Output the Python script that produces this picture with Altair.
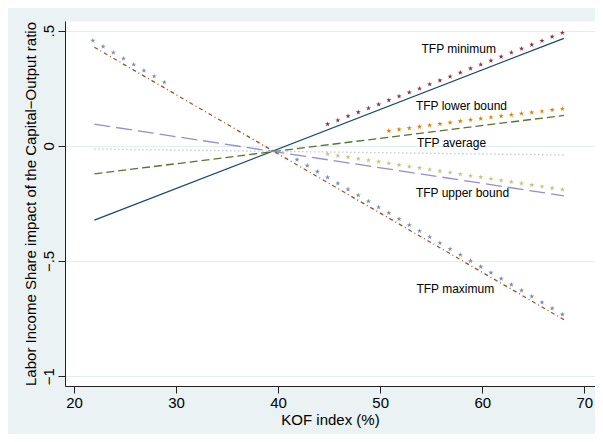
import altair as alt
import pandas as pd

FONT = "Liberation Sans"

# ---- straight fitted lines (endpoints) ----
line_x = [22, 68]
min_line = [-0.323, 0.467]
lower_line = [-0.122, 0.132]
avg_line = [-0.014, -0.040]
upper_line = [0.094, -0.217]
max_line = [0.428, -0.755]

# ---- star markers ----
min_star_x = [45, 46, 47, 48, 49, 50, 51, 52, 53, 54, 55, 56, 57, 58, 59, 60, 61, 62, 63, 64, 65, 66, 67, 68]
min_star_y = [0.094, 0.111, 0.129, 0.146, 0.163, 0.180, 0.198, 0.215, 0.232, 0.249, 0.267, 0.284,
              0.301, 0.318, 0.336, 0.353, 0.370, 0.387, 0.405, 0.422, 0.439, 0.456, 0.474, 0.491]

lower_star_x = [51, 52, 53, 54, 55, 56, 57, 58, 59, 60, 61, 62, 63, 64, 65, 66, 67, 68]
lower_star_y = [0.065, 0.071, 0.077, 0.083, 0.089, 0.095, 0.101, 0.107, 0.113, 0.118, 0.124, 0.129,
                0.135, 0.140, 0.145, 0.150, 0.156, 0.161]

upper_star_x = [45, 46, 47, 48, 49, 50, 51, 52, 53, 54, 55, 56, 57, 58, 59, 60, 61, 62, 63, 64, 65, 66, 67, 68]
upper_star_y = [-0.036, -0.043, -0.049, -0.056, -0.063, -0.069, -0.076, -0.083, -0.090, -0.096, -0.103, -0.110,
                -0.116, -0.123, -0.130, -0.136, -0.143, -0.150, -0.157, -0.163, -0.170, -0.177, -0.184, -0.190]

max_star_x = [22, 23, 24, 25, 26, 27, 28, 29,
              42, 43, 44, 45, 46, 47, 48, 49, 50, 51, 52, 53, 54, 55, 56, 57, 58, 59, 60, 61, 62, 63, 64, 65, 66, 67, 68]
max_star_y = [0.457, 0.431, 0.405, 0.379, 0.353, 0.327, 0.302, 0.276,
              -0.060, -0.086, -0.112, -0.137, -0.163, -0.189, -0.215, -0.241, -0.267, -0.292, -0.318, -0.344,
              -0.370, -0.396, -0.422, -0.448, -0.473, -0.499, -0.525, -0.551, -0.577, -0.603, -0.628, -0.654,
              -0.680, -0.706, -0.732]

# ---- text labels ----
label_text = ["TFP minimum", "TFP lower bound", "TFP average", "TFP upper bound", "TFP maximum"]
label_x = [54.05, 53.5, 53.6, 53.5, 53.55]
label_y = [0.419, 0.174, 0.013, -0.203, -0.622]

x_ticks = [20, 30, 40, 50, 60, 70]
y_ticks = [-1, -0.5, 0, 0.5]

STAR = ("M0,-1 L0.225,-0.309 L0.951,-0.309 L0.363,0.118 L0.588,0.809 L0,0.382 "
        "L-0.588,0.809 L-0.363,0.118 L-0.951,-0.309 L-0.225,-0.309 Z")

xscale = alt.Scale(domain=[19.12, 71.05], nice=False, zero=False)
yscale = alt.Scale(domain=[-1.043, 0.542], nice=False, zero=False)

xaxis = alt.Axis(values=x_ticks, grid=False, title="KOF index (%)", tickSize=7,
                 labelFontSize=15, titleFontSize=15, labelPadding=2,
                 titleY=33, titleBaseline="middle", titleFontWeight="normal")
yaxis = alt.Axis(values=y_ticks, grid=True, gridColor="#e3ecee", gridWidth=1,
                 title="Labor Income Share impact of the Capital\u2212Output ratio",
                 tickSize=7, labelFontSize=15, titleFontSize=15, labelAngle=270,
                 labelAlign="center", labelBaseline="middle", labelPadding=10,
                 labelExpr="datum.value == 0.5 ? '.5' : datum.value == 0 ? '0' : datum.value == -0.5 ? '\u2212.5' : '\u22121'",
                 titleAngle=270, titleX=-35, titleY=182.5, titleAlign="center",
                 titleBaseline="middle", titleFontWeight="normal")


def enc(chart):
    return chart.encode(
        x=alt.X("x:Q", scale=xscale, axis=xaxis),
        y=alt.Y("y:Q", scale=yscale, axis=yaxis),
    )


def line_layer(ys, color, dash=None, width=1.3):
    df = pd.DataFrame({"x": line_x, "y": ys})
    kw = dict(color=color, strokeWidth=width)
    if dash is not None:
        kw["strokeDash"] = dash
    return enc(alt.Chart(df).mark_line(**kw))


def star_layer(xs, ys, color):
    df = pd.DataFrame({"x": xs, "y": ys})
    return enc(alt.Chart(df).mark_point(shape=STAR, filled=True, size=30, color=color,
                                        opacity=1, xOffset=-1.5))


labels_df = pd.DataFrame({"x": label_x, "y": label_y, "t": label_text})
labels = alt.Chart(labels_df).mark_text(align="left", baseline="middle", fontSize=12,
                                        font=FONT, color="black").encode(
    x=alt.X("x:Q", scale=xscale, axis=xaxis),
    y=alt.Y("y:Q", scale=yscale, axis=yaxis),
    text="t:N",
)

chart = alt.layer(
    line_layer(min_line, "#1a476f"),
    star_layer(min_star_x, min_star_y, "#90353b"),
    line_layer(lower_line, "#55752f", dash=[8, 4]),
    star_layer(lower_star_x, lower_star_y, "#e37e00"),
    line_layer(avg_line, "#9fb3ad", dash=[1, 3]),
    line_layer(upper_line, "#938dd2", dash=[16, 6]),
    star_layer(upper_star_x, upper_star_y, "#cac27e"),
    line_layer(max_line, "#a0522d", dash=[4, 3, 1, 3]),
    star_layer(max_star_x, max_star_y, "#7b92a8"),
    labels,
).properties(
    width=530,
    height=365,
    background="#eaf2f3",
    padding={"left": 57, "top": 13, "right": 0, "bottom": 48},
    autosize=alt.AutoSizeParams(type="none"),
).configure_view(
    fill="white", stroke="transparent"
).configure_axis(
    labelFont=FONT, titleFont=FONT, labelColor="black", titleColor="black",
    domainColor="#222222", tickColor="#222222", domainWidth=1, tickWidth=1,
)

chart.save("out.html", embed_options={"renderer": "svg", "actions": False})
